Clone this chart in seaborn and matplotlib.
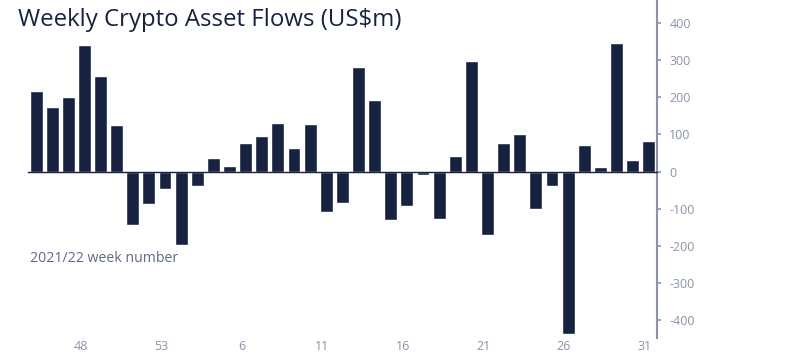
import numpy as np
import pandas as pd
import seaborn as sns
import matplotlib.pyplot as plt

# weekly flows, US$m
weeks = ['45', '46', '47', '48', '49', '50', '51', '52', '53',
         '2', '3', '4', '5', '6', '7', '8', '9', '10', '11', '12',
         '13', '14', '15', '16', '17', '18', '19', '20', '21', '22',
         '23', '24', '25', '26', '27', '28', '29', '30', '31']
flows = [216, 174, 200, 342, 257, 126, -143, -86, -47, -197,
         -40, 36, 15, 78, 95, 130, 64, 128, -109, -84,
         281, 192, -130, -92, -8, -127, 42, 297, -170, 77,
         101, -101, -39, -437, 71, 12, 345, 30, 83]
shown_weeks = ['48', '53', '6', '11', '16', '21', '26', '31']
y_ticks = [-400, -300, -200, -100, 0, 100, 200, 300, 400]

navy = '#16223f'
grey = '#8a93a8'

sns.set_style('white')
plt.rcParams['font.family'] = ['Open Sans', 'DejaVu Sans']

df = pd.DataFrame({'week': weeks, 'flow': flows})

fig = plt.figure(figsize=(8, 3.56), dpi=100)
ax = fig.add_axes([0.035, 0.0514, 0.786, 0.9486])

sns.barplot(data=df, x='week', y='flow', color=navy, width=0.8,
            saturation=1, ax=ax, order=weeks)

ax.set_xlim(-0.5, len(weeks) - 0.5)
ax.set_ylim(-447, 462)
ax.set_xlabel('')
ax.set_ylabel('')

# zero line with small ticks between bars
for s in ['top', 'left']:
    ax.spines[s].set_visible(False)
ax.spines['bottom'].set_position(('data', 0))
ax.spines['bottom'].set_color(navy)
ax.spines['bottom'].set_linewidth(1.0)
ax.spines['right'].set_color(grey)
ax.spines['right'].set_linewidth(1.5)
ax.set_xticks(np.arange(len(weeks) + 1) - 0.5)
ax.tick_params(axis='x', direction='out', length=3, width=1, color=navy,
               labelbottom=False)

# y axis on the right
ax.yaxis.tick_right()
ax.set_yticks(y_ticks)
ax.set_yticklabels([str(v) for v in y_ticks])
ax.tick_params(axis='y', direction='out', length=3, width=1.2, color=grey,
               labelcolor=grey, labelsize=9, pad=6)

# week labels at the bottom
sec = ax.secondary_xaxis(0)
sec.spines['bottom'].set_visible(False)
pos = [weeks.index(w) - 0.25 for w in shown_weeks]
sec.set_xticks(pos)
sec.set_xticklabels(shown_weeks)
sec.tick_params(axis='x', length=0, labelcolor=grey, labelsize=9, pad=2)

fig.text(0.022, 0.945, 'Weekly Crypto Asset Flows (US$m)', fontsize=17.3,
         color=navy, va='center', ha='left')
fig.text(0.0375, 0.275, '2021/22 week number', fontsize=10.2,
         color='#5e6a82', va='center', ha='left')

fig.savefig('out.png', dpi=100)
